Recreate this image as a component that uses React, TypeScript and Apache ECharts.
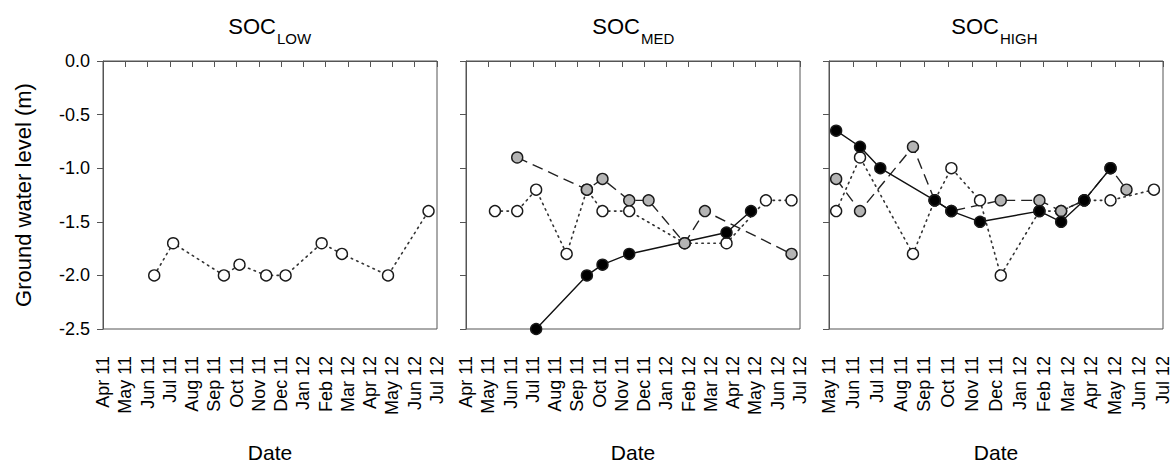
import React, { useEffect, useRef } from "react";
import * as echarts from "echarts";

// Month tick labels (index 0 = Apr 11)
const monthLabels = [
  "Apr 11", "May 11", "Jun 11", "Jul 11", "Aug 11", "Sep 11", "Oct 11", "Nov 11",
  "Dec 11", "Jan 12", "Feb 12", "Mar 12", "Apr 12", "May 12", "Jun 12", "Jul 12",
];

// Sampling dates, as month position from Apr 11
const sampleMonths = [1.3, 2.3, 3.15, 4.52, 5.43, 6.13, 7.33, 8.2, 9.82, 10.73, 11.7, 12.8, 13.47, 14.62];

// SOC LOW
const lowOpen = [null, -2.0, -1.7, null, -2.0, -1.9, -2.0, -2.0, -1.7, -1.8, null, -2.0, null, -1.4];

// SOC MED
const medOpen = [-1.4, -1.4, -1.2, -1.8, -1.2, -1.4, -1.4, null, -1.7, null, -1.7, null, -1.3, -1.3];
const medGray = [null, -0.9, null, null, -1.2, -1.1, -1.3, -1.3, -1.7, -1.4, null, null, null, -1.8];
const medBlack = [null, null, -2.5, null, -2.0, -1.9, -1.8, null, null, null, -1.6, -1.4, null, null];

// SOC HIGH
const highOpen = [-1.4, -0.9, null, -1.8, -1.3, -1.0, -1.3, -2.0, -1.4, -1.4, -1.3, -1.3, null, -1.2];
const highGray = [-1.1, -1.4, null, -0.8, -1.3, -1.4, null, -1.3, -1.3, -1.4, -1.3, -1.0, -1.2, null];
const highBlack = [-0.65, -0.8, -1.0, null, -1.3, -1.4, -1.5, null, -1.4, -1.5, -1.3, -1.0, null, null];

const yTicks = { min: -2.5, max: 0, interval: 0.5 };

const FONT = "'Liberation Sans', Arial, Helvetica, sans-serif";

const grids = [
  { left: 103, top: 61, width: 334, height: 268 },
  { left: 466, top: 61, width: 334, height: 268 },
  { left: 829, top: 61, width: 334, height: 268 },
];
const xRanges = [
  { min: 0, max: 15 },
  { min: 0, max: 15 },
  { min: 1, max: 15 },
];
const titles = [
  { main: "SOC", sub: "LOW", split: 276 },
  { main: "SOC", sub: "MED", split: 640 },
  { main: "SOC", sub: "HIGH", split: 999 },
];

function toPairs(vals: (number | null)[]) {
  const out: number[][] = [];
  vals.forEach((v, i) => {
    if (v !== null && v !== undefined) out.push([sampleMonths[i], v]);
  });
  return out;
}

const styles = {
  open: { fill: "#ffffff", line: { type: [1.5, 4.5] as any, width: 1.6, color: "#333", cap: "round" } },
  gray: { fill: "#b4b4b4", line: { type: [11, 6] as any, width: 1.4, color: "#222" } },
  black: { fill: "#000000", line: { type: "solid", width: 1.4, color: "#111" } },
};

function mkSeries(vals: (number | null)[], kind: "open" | "gray" | "black", idx: number) {
  const s = styles[kind];
  return {
    type: "line",
    xAxisIndex: idx,
    yAxisIndex: idx,
    data: toPairs(vals),
    symbol: "circle",
    symbolSize: 11,
    showAllSymbol: true,
    itemStyle: { color: s.fill, borderColor: "#1a1a1a", borderWidth: 1.4, opacity: 1 },
    lineStyle: s.line,
    emphasis: { disabled: true },
  };
}

export default function App() {
  const ref = useRef<HTMLDivElement>(null);
  useEffect(() => {
    if (!ref.current) return;
    const chart = echarts.init(ref.current, null, { renderer: "svg" });

    const xAxis = grids.map((_, i) => ({
      type: "value",
      gridIndex: i,
      min: xRanges[i].min,
      max: xRanges[i].max,
      interval: 1,
      axisLine: { show: true, lineStyle: { color: "#555", width: 1 } },
      axisTick: { show: true, inside: false, length: 6, lineStyle: { color: "#555" } },
      axisLabel: {
        rotate: 90,
        margin: 27,
        fontSize: 18,
        color: "#000",
        fontFamily: FONT,
        showMinLabel: true,
        showMaxLabel: true,
        formatter: (v: number) => monthLabels[Math.round(v)] ?? "",
      },
      splitLine: { show: false },
    }));

    const yAxis = grids.map((_, i) => ({
      type: "value",
      gridIndex: i,
      min: yTicks.min,
      max: yTicks.max,
      interval: yTicks.interval,
      axisLine: { show: true, lineStyle: { color: "#555", width: 1 } },
      axisTick: { show: true, inside: false, length: 6, lineStyle: { color: "#555" } },
      axisLabel: {
        show: i === 0,
        margin: 13,
        fontSize: 18,
        color: "#000",
        fontFamily: FONT,
        formatter: (v: number) => v.toFixed(1),
      },
      splitLine: { show: false },
    }));

    const graphics: any[] = [];
    titles.forEach((t) => {
      graphics.push({
        type: "text",
        x: t.split,
        y: 26,
        style: { text: t.main, fontSize: 22, fontFamily: FONT, fill: "#000", textAlign: "right", verticalAlign: "middle" },
      });
      graphics.push({
        type: "text",
        x: t.split + 1,
        y: 38,
        style: { text: t.sub, fontSize: 15, fontFamily: FONT, fill: "#000", textAlign: "left", verticalAlign: "middle" },
      });
    });
    grids.forEach((g) => {
      graphics.push({
        type: "text",
        x: g.left + g.width / 2,
        y: 452,
        style: { text: "Date", fontSize: 21, fontFamily: FONT, fill: "#000", textAlign: "center", verticalAlign: "middle" },
      });
    });
    graphics.push({
      type: "text",
      x: 23,
      y: 195,
      rotation: Math.PI / 2,
      style: { text: "Ground water level (m)", fontSize: 22, fontFamily: FONT, fill: "#000", textAlign: "center", verticalAlign: "middle" },
    });

    chart.setOption({
      animation: false,
      backgroundColor: "#ffffff",
      grid: grids.map((g) => ({ ...g, show: true, borderColor: "#555", borderWidth: 1, backgroundColor: "transparent" })),
      xAxis,
      yAxis,
      series: [
        mkSeries(lowOpen, "open", 0),
        mkSeries(medOpen, "open", 1),
        mkSeries(medGray, "gray", 1),
        mkSeries(medBlack, "black", 1),
        mkSeries(highOpen, "open", 2),
        mkSeries(highGray, "gray", 2),
        mkSeries(highBlack, "black", 2),
      ],
      graphic: graphics,
    });
    return () => chart.dispose();
  }, []);
  return <div ref={ref} style={{ position: "fixed", left: 0, top: 0, width: 1174, height: 466 }} />;
}
